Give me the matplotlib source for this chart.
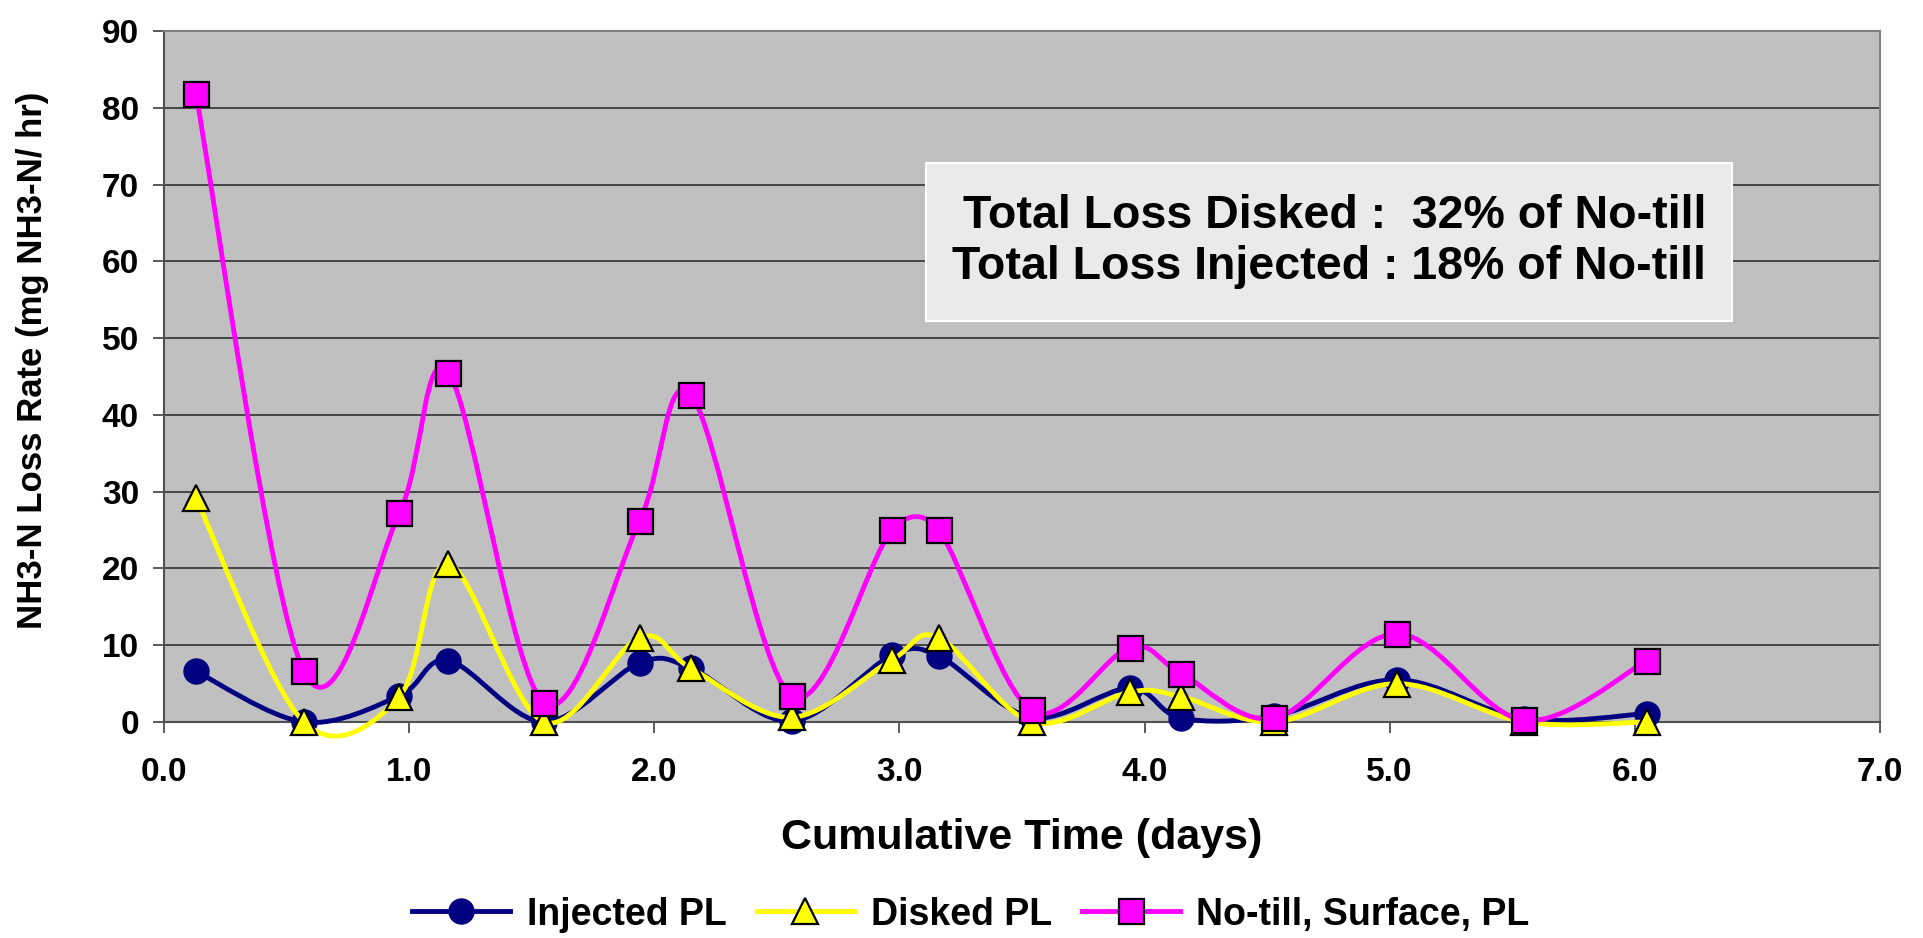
import matplotlib.pyplot as plt
import numpy as np
from matplotlib.path import Path
from matplotlib.patches import PathPatch, Rectangle
from matplotlib.lines import Line2D

plt.rcParams['font.family'] = ['Liberation Sans', 'DejaVu Sans']
plt.rcParams['font.weight'] = 'bold'

# cumulative time of each sample (days)
days = [0.13, 0.57, 0.96, 1.16, 1.55, 1.94, 2.15, 2.56, 2.97, 3.16,
        3.54, 3.94, 4.15, 4.53, 5.03, 5.55, 6.05]

# NH3-N loss rate (mg NH3-N / hr)
injected = [6.6, 0.0, 3.4, 8.0, 0.0, 7.7, 7.0, 0.1, 8.7, 8.6,
            0.6, 4.4, 0.5, 0.8, 5.5, 0.4, 1.1]
disked = [29.2, 0.0, 3.3, 20.6, 0.0, 11.0, 7.0, 0.6, 8.1, 11.0,
          0.0, 3.9, 3.3, 0.0, 5.0, 0.0, 0.0]
no_till = [81.8, 6.6, 27.2, 45.5, 2.5, 26.2, 42.6, 3.4, 25.0, 25.0,
           1.5, 9.7, 6.3, 0.5, 11.5, 0.2, 8.0]

labels = ['Injected PL', 'Disked PL', 'No-till, Surface, PL']
x_ticks = np.arange(0, 7.5, 1.0)
y_ticks = np.arange(0, 100, 10)
note = "Total Loss Disked :  32% of No-till\nTotal Loss Injected : 18% of No-till"


def smooth_path(ax, x, y):
    # excel style smoothed line, worked out in screen space:
    # catmull-rom handles, each capped at half of its segment length
    to_px = ax.transData
    pts = to_px.transform(np.column_stack([x, y]))
    n = len(pts)
    verts = [pts[0]]
    codes = [Path.MOVETO]
    for i in range(n - 1):
        p0 = pts[max(i - 1, 0)]
        p1 = pts[i]
        p2 = pts[i + 1]
        p3 = pts[min(i + 2, n - 1)]
        seg = np.hypot(*(p2 - p1))
        h1 = (p2 - p0) / 6
        h2 = (p3 - p1) / 6
        for h in (h1, h2):
            L = np.hypot(*h)
            if L > seg / 2 and L > 0:
                h *= (seg / 2) / L
        verts += [p1 + h1, p2 - h2, p2]
        codes += [Path.CURVE4] * 3
    verts = to_px.inverted().transform(np.array(verts))
    return Path(verts, codes)


fig = plt.figure(figsize=(19.23, 9.38), dpi=100)
ax = fig.add_axes([0.0853, 0.2303, 0.8923, 0.7367])
ax.set_facecolor('#C0C0C0')
ax.set_xlim(0, 7)
ax.set_ylim(0, 90)

styles = [
    dict(color='#000080', marker='o', ms=18, mfc='#000080', mec='#000080', mew=1),
    dict(color='#FFFF00', marker='^', ms=19, mfc='#FFFF00', mec='black', mew=1.6),
    dict(color='#FF00FF', marker='s', ms=18, mfc='#FF00FF', mec='black', mew=1.6),
]

handles = []
for k, (vals, st) in enumerate(zip([injected, disked, no_till], styles)):
    patch = PathPatch(smooth_path(ax, days, vals), fill=False, edgecolor=st['color'],
                      lw=3.5, capstyle='round', joinstyle='round',
                      zorder=3 + 2 * k, clip_on=False)
    ax.add_patch(patch)
    ax.plot(days, vals, linestyle='none', marker=st['marker'], ms=st['ms'],
            mfc=st['mfc'], mec=st['mec'], mew=st['mew'], zorder=4 + 2 * k,
            clip_on=False)
    handles.append(Line2D([], [], color=st['color'], lw=3.5, marker=st['marker'],
                          ms=st['ms'], mfc=st['mfc'], mec=st['mec'], mew=st['mew']))

ax.set_xticks(x_ticks)
ax.set_xticklabels(['%.1f' % t for t in x_ticks])
ax.set_yticks(y_ticks)
ax.yaxis.grid(True, color='#303030', lw=1.2)
ax.set_axisbelow(True)

for s in ax.spines.values():
    s.set_color('#808080')
    s.set_linewidth(1.5)
ax.spines['left'].set_color('#505050')
ax.spines['bottom'].set_color('#505050')

ax.tick_params(axis='both', direction='out', length=8, width=1.2, color='#404040',
               labelsize=24)
ax.tick_params(axis='x', pad=17)
ax.tick_params(axis='y', pad=10)

ax.set_xlabel('Cumulative Time (days)', fontsize=31, fontweight='bold', labelpad=22)
ax.set_ylabel('NH3-N Loss Rate (mg NH3-N/ hr)', fontsize=25, fontweight='bold')
ax.yaxis.set_label_coords(-0.067, 0.524)

ax.add_patch(Rectangle((0.444, 0.580), 0.470, 0.229, transform=ax.transAxes,
                       facecolor='#EAEAEA', edgecolor='white', lw=1.5, zorder=10))
ax.text(0.679, 0.695, note, transform=ax.transAxes, ha='center', va='center',
        multialignment='right', fontsize=33.5, fontweight='bold', linespacing=1.2,
        zorder=11)

fig.legend(handles, labels, loc='center', bbox_to_anchor=(0.505, 0.025),
           ncol=3, frameon=False, fontsize=27, handlelength=2.6,
           handletextpad=0.45, columnspacing=0.8)

fig.savefig('out.png', dpi=100)
